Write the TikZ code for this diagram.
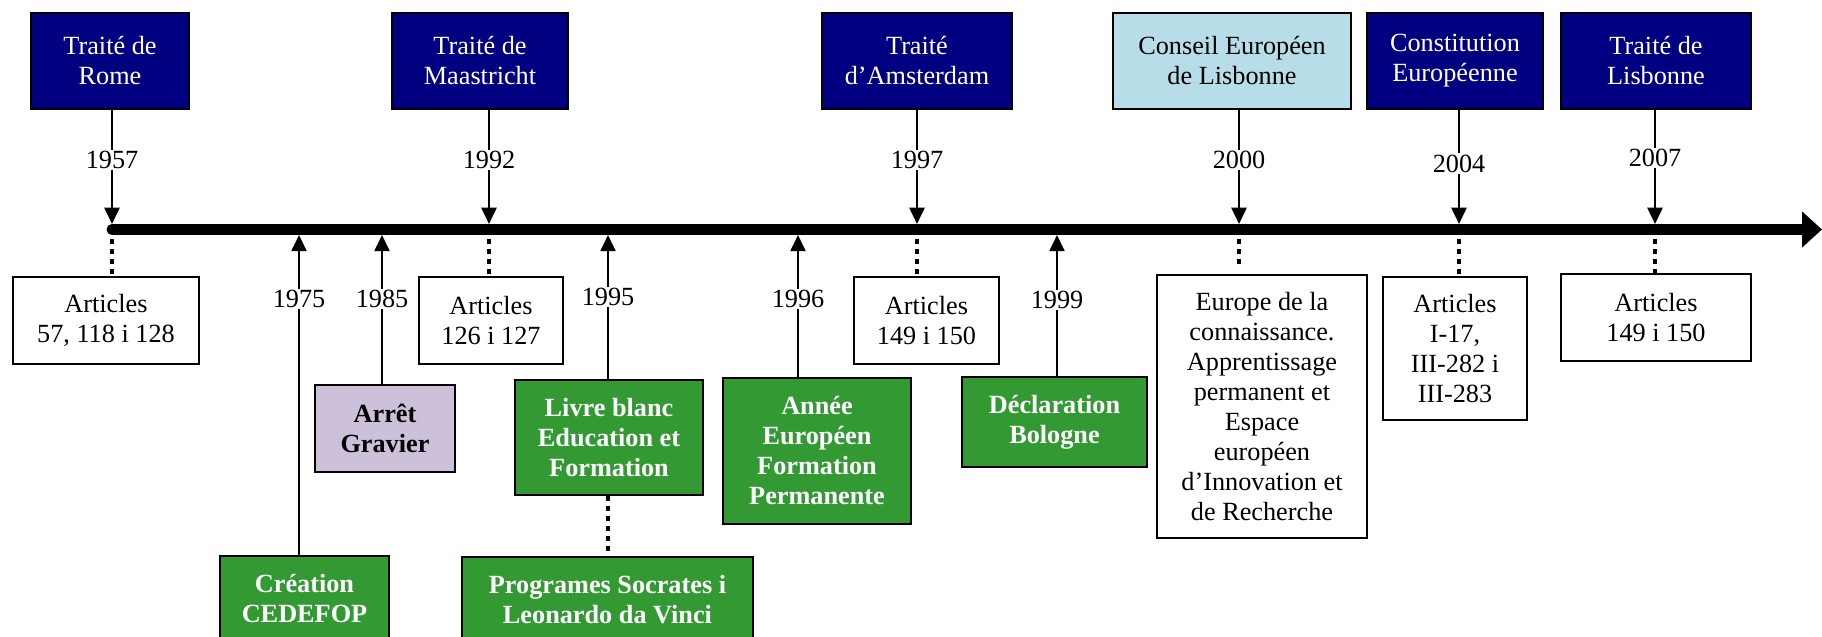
\documentclass[tikz,border=0pt]{standalone}
\usepackage{fontspec}
\setmainfont{Liberation Serif}
\usetikzlibrary{arrows.meta}

\definecolor{navy}{HTML}{000080}
\definecolor{paleblue}{HTML}{B7DEE8}
\definecolor{leaf}{HTML}{339933}
\definecolor{lilac}{HTML}{CCC0DA}

\tikzstyle{treaty} = [rectangle, draw, line width=0.7pt, fill=navy, text=white,
    align=center, inner sep=0pt, minimum height=38.4pt]
\tikzstyle{council} = [treaty, fill=paleblue, text=black]
\tikzstyle{article} = [rectangle, draw, line width=0.7pt, fill=white,
    align=center, inner sep=0pt]
\tikzstyle{action} = [rectangle, draw, line width=0.8pt, fill=leaf, text=white,
    font=\bfseries, align=center, inner sep=0pt]
\tikzstyle{ruling} = [action, fill=lilac, text=black]
\tikzstyle{year} = [fill=white, inner sep=0.5pt]
\tikzstyle{line} = [draw, line width=1pt, -{Triangle[width=6pt,length=6.5pt]}]
\tikzstyle{dots} = [draw, line width=1.9pt, dash pattern=on 2pt off 2pt]
\tikzstyle{axis} = [draw, line width=4.4pt, line cap=round,
    -{Triangle[width=14pt,length=8pt]}]

\begin{document}
\fontsize{10.5}{12}\selectfont
\begin{tikzpicture}[x=0.4pt, y=-0.4pt]
    \clip (0,0) rectangle (1822,637);

    % dates on the time axis
    \coordinate (y57) at (112,229.5);
    \coordinate (y75) at (299,229.5);
    \coordinate (y85) at (382,229.5);
    \coordinate (y92) at (489,229.5);
    \coordinate (y95) at (608,229.5);
    \coordinate (y96) at (798,229.5);
    \coordinate (y97) at (917,229.5);
    \coordinate (y99) at (1057,229.5);
    \coordinate (y00) at (1239,229.5);
    \coordinate (y04) at (1459,229.5);
    \coordinate (y07) at (1655,229.5);
    \coordinate (tip) at (1822,229.5);

    % treaties
    \node [treaty, minimum width=63.2pt] (rome) at (110,61) {Traité de\\Rome};
    \node [treaty, minimum width=70.4pt] (maastricht) at (480,61) {Traité de\\Maastricht};
    \node [treaty, minimum width=76pt] (amsterdam) at (917,61) {Traité\\d’Amsterdam};
    \node [council, minimum width=95.2pt] (council) at (1232,61) {Conseil Européen\\de Lisbonne};
    \node [treaty, minimum width=70.4pt] (constitution) at (1455,61) {Constitution\\Européenne};
    \node [treaty, minimum width=76pt] (lisbon) at (1656,61) {Traité de\\Lisbonne};

    % articles
    \node [article, minimum width=74.4pt, minimum height=34.8pt] (artRome) at (106,320.5) {Articles\\57, 118 i 128};
    \node [article, minimum width=57.6pt, minimum height=34.8pt] (artMaastricht) at (491,320.5) {Articles\\126 i 127};
    \node [article, minimum width=58pt, minimum height=34.8pt] (artAmsterdam) at (926.5,320.5) {Articles\\149 i 150};
    \node [article, minimum width=84pt, minimum height=105.2pt] (europe) at (1262,406.5)
        {Europe de la\\connaissance.\\Apprentissage\\permanent et\\Espace\\européen\\d’Innovation et\\de Recherche};
    \node [article, minimum width=57.6pt, minimum height=57.2pt] (artConstitution) at (1455,348.5)
        {Articles\\I-17,\\III-282 i\\III-283};
    \node [article, minimum width=76pt, minimum height=34.8pt] (artLisbon) at (1656,317.5) {Articles\\149 i 150};

    % education and training
    \node [action, minimum width=67.6pt, minimum height=34.4pt] (cedefop) at (304.5,599) {Création\\CEDEFOP};
    \node [ruling, minimum width=56pt, minimum height=34.8pt] (gravier) at (385,428.5) {Arrêt\\Gravier};
    \node [action, minimum width=75.2pt, minimum height=46pt] (livre) at (609,437.5) {Livre blanc\\Education et\\Formation};
    \node [action, minimum width=116.4pt, minimum height=34.4pt] (socrates) at (607.5,600) {Programes Socrates i\\Leonardo da Vinci};
    \node [action, minimum width=75.2pt, minimum height=58.4pt] (annee) at (817,451) {Année\\Européen\\Formation\\Permanente};
    \node [action, minimum width=74pt, minimum height=36pt] (bologne) at (1054.5,422) {Déclaration\\Bologne};

    \path [dots] (y57) -- (artRome.north -| y57);
    \path [dots] (y92) -- (artMaastricht.north -| y92);
    \path [dots] (y97) -- (artAmsterdam.north -| y97);
    \path [dots] (y00) -- ([yshift=3pt]europe.north -| y00);
    \path [dots] (y04) -- (artConstitution.north -| y04);
    \path [dots] (y07) -- (artLisbon.north -| y07);
    \path [dots] (livre.south -| y95) -- (socrates.north -| y95);

    \path [axis] (y57) -- (tip);

    \path [line] (rome.south -| y57) -- node [year, pos=.44] {1957} ([yshift=2.2pt]y57);
    \path [line] (maastricht.south -| y92) -- node [year, pos=.44] {1992} ([yshift=2.2pt]y92);
    \path [line] (amsterdam.south -| y97) -- node [year, pos=.44] {1997} ([yshift=2.2pt]y97);
    \path [line] (council.south -| y00) -- node [year, pos=.44] {2000} ([yshift=2.2pt]y00);
    \path [line] (constitution.south -| y04) -- node [year, pos=.47] {2004} ([yshift=2.2pt]y04);
    \path [line] (lisbon.south -| y07) -- node [year, pos=.42] {2007} ([yshift=2.2pt]y07);

    \path [line] (cedefop.north -| y75) -- node [year, pos=.8] {1975} ([yshift=-2.2pt]y75);
    \path [line] (gravier.north -| y85) -- node [year, pos=.57] {1985} ([yshift=-2.2pt]y85);
    \path [line] (livre.north -| y95) -- node [year, pos=.57] {1995} ([yshift=-2.2pt]y95);
    \path [line] (annee.north -| y96) -- node [year, pos=.55] {1996} ([yshift=-2.2pt]y96);
    \path [line] (bologne.north -| y99) -- node [year, pos=.54] {1999} ([yshift=-2.2pt]y99);
\end{tikzpicture}
\end{document}
